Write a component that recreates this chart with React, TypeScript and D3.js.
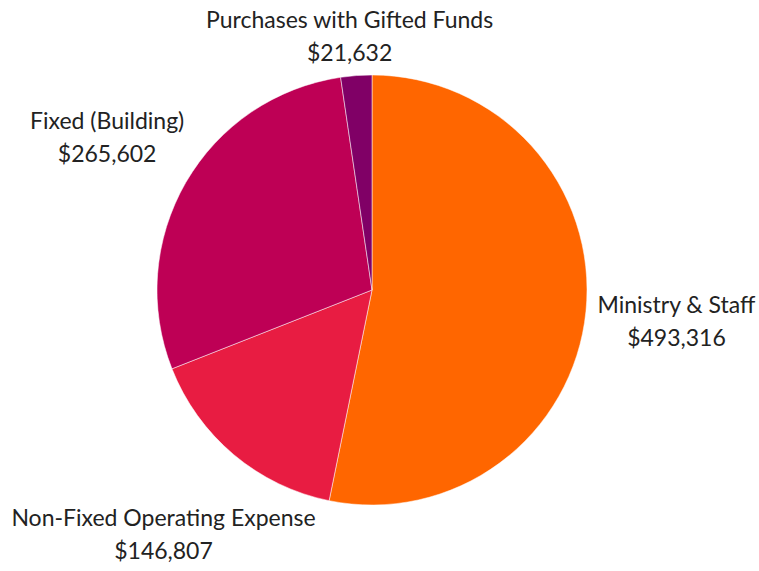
import * as d3 from "d3";

const categories = [
  "Ministry & Staff",
  "Non-Fixed Operating Expense",
  "Fixed (Building)",
  "Purchases with Gifted Funds",
];
const amounts = [493316, 146807, 265602, 21632];
const colors = ["#ff6600", "#e81c42", "#be0055", "#800066"];

export default function App() {
  const width = 759;
  const height = 571;
  const cx = 372;
  const cy = 290;
  const radius = 215;
  const labelRadius = 306;

  const data = categories.map((name, i) => ({ name, value: amounts[i], color: colors[i] }));

  const pie = d3
    .pie<{ name: string; value: number; color: string }>()
    .value((d) => d.value)
    .sort(null);
  const arcs = pie(data);

  const arc = d3.arc<d3.PieArcDatum<any>>().innerRadius(0).outerRadius(radius);
  const labelArc = d3.arc<d3.PieArcDatum<any>>().innerRadius(labelRadius).outerRadius(labelRadius);
  const fmt = d3.format("$,");

  return (
    <svg width={width} height={height} style={{ position: "absolute", left: 0, top: 0 }}>
      <g transform={`translate(${cx}, ${cy})`}>
        {arcs.map((a, i) => (
          <path key={i} d={arc(a) ?? ""} fill={a.data.color} stroke="#ffffff" strokeWidth={0.5} />
        ))}
        {arcs.map((a, i) => {
          const [lx0, ly0] = labelArc.centroid(a);
          // push lower labels a little further out so they clear the pie
          const lx = ly0 > 100 ? lx0 * 1.06 : lx0;
          const ly = Math.max(36 - cy, ly0 > 100 ? ly0 * 1.04 : ly0);
          return (
            <text
              key={i}
              x={lx}
              y={ly}
              textAnchor="middle"
              fontFamily="Lato, sans-serif"
              fontSize={23}
              fill="#222"
            >
              <tspan x={lx} dy="-0.35em">
                {a.data.name}
              </tspan>
              <tspan x={lx} dy="1.45em">
                {fmt(a.data.value)}
              </tspan>
            </text>
          );
        })}
      </g>
    </svg>
  );
}
